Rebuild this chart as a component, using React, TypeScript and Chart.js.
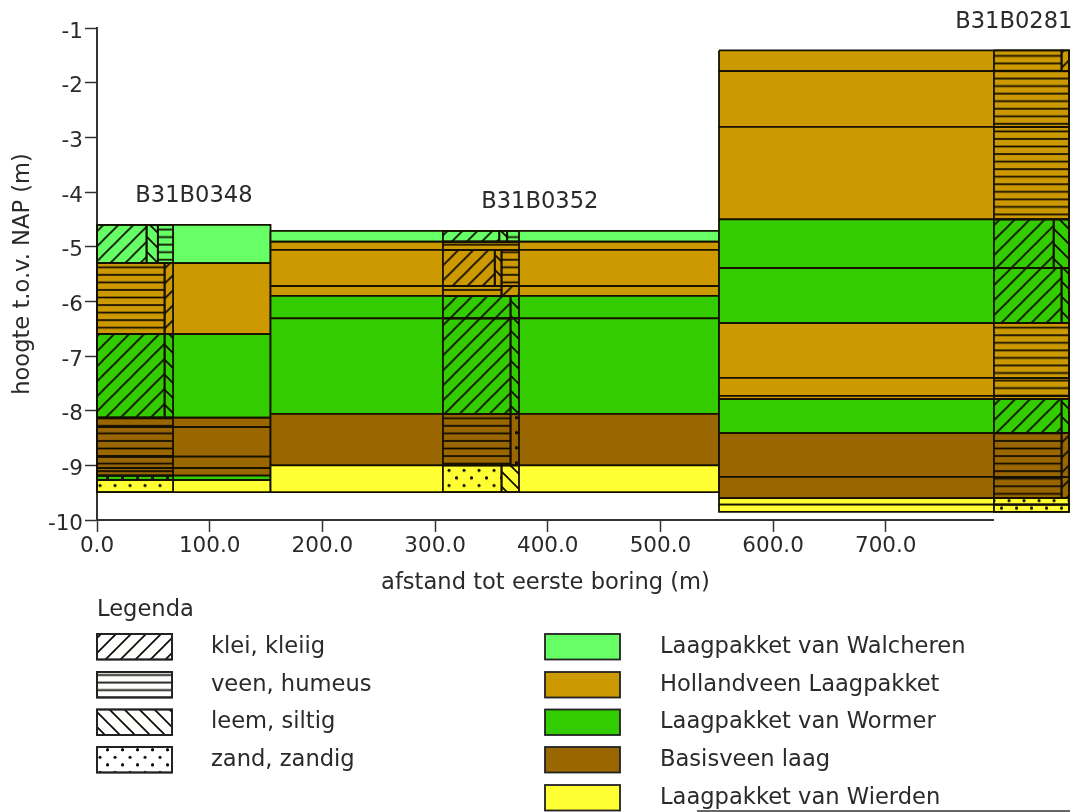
import React, { useEffect, useRef } from "react";
import { Chart, registerables } from "chart.js";

Chart.register(...registerables);

const xTickValues = [0, 100, 200, 300, 400, 500, 600, 700];
const yTickValues = [-1, -2, -3, -4, -5, -6, -7, -8, -9, -10];
const xAxisEnd = 796;
const xDataEnd = 862.6;

const unitNames = ["Laagpakket van Walcheren", "Hollandveen Laagpakket", "Laagpakket van Wormer", "Basisveen laag", "Laagpakket van Wierden"];
const unitColors = ["#66ff66", "#cc9900", "#33cc00", "#996600", "#ffff33"];
const lithoNames = ["klei, kleiig", "veen, humeus", "leem, siltig", "zand, zandig"];
const lithoKeys = ["klei", "veen", "leem", "zand"];

const W = 0, H = 1, O = 2, B = 3, Y = 4;

// formation sections between borings
const section1Range = [0, 154];
const section1Depths = [-4.6, -5.3, -6.6, -8.13, -8.3, -8.84, -9.05, -9.19, -9.27, -9.49];
const section1Units = [W, H, O, B, B, B, B, O, Y];

const section2Range = [154, 552];
const section2Depths = [-4.71, -4.91, -5.06, -5.72, -5.9, -6.31, -8.06, -9, -9.49];
const section2Units = [W, H, H, H, O, O, B, Y];

const section3Range = [552, xDataEnd];
const section3Depths = [-1.41, -1.79, -2.81, -4.5, -5.39, -6.4, -7.4, -7.73, -7.79, -8.41, -9.21, -9.6, -9.72, -9.85];
const section3Units = [H, H, H, O, O, H, H, H, O, B, B, Y, Y];

// borings: for every depth band, [lithology, end offset, ...]
const boring1Start = 0;
const boring1Rows: (string | number)[][] = [
  ["klei", 44, "leem", 54, "veen", 67.5],
  ["veen", 60, "klei", 67.5],
  ["klei", 60, "leem", 67.5],
  ["veen", 67.5],
  ["veen", 67.5],
  ["veen", 67.5],
  ["veen", 67.5],
  ["zand", 67.5],
  ["zand", 67.5],
];

const boring2Start = 307;
const boring2Rows: (string | number)[][] = [
  ["klei", 50, "leem", 57, "veen", 67.5],
  ["veen", 67.5],
  ["klei", 46, "leem", 52, "veen", 67.5],
  ["veen", 52, "klei", 67.5],
  ["klei", 60, "leem", 67.5],
  ["klei", 60, "leem", 67.5],
  ["veen", 60, "zand", 67.5],
  ["zand", 52, "leem", 67.5],
];

const boring3Start = 796;
const boring3Rows: (string | number)[][] = [
  ["veen", 60, "klei", 66.6],
  ["veen", 66.6],
  ["veen", 66.6],
  ["klei", 53, "leem", 66.6],
  ["klei", 60, "leem", 66.6],
  ["veen", 66.6],
  ["veen", 66.6],
  ["veen", 66.6],
  ["klei", 60, "leem", 66.6],
  ["veen", 60, "klei", 66.6],
  ["veen", 60, "klei", 66.6],
  ["zand", 66.6],
  ["zand", 66.6],
];

const boringLabels = ["B31B0348", "B31B0352", "B31B0281"];
const boringLabelX = [86, 393, 813.6];
const boringLabelY = [-4.07, -4.18, -0.89];

const INK = "#2a2a2a";
const FONT = "'DejaVu Sans'";

// hatch phase (px) of clay and sand per boring
const kleiPhase = [13.3, 3.4, 4.3];
const zandPhase = [10, 14, 4];

function makePattern(kind: string, phase = 0): CanvasPattern {
  const c = document.createElement("canvas");
  c.width = 15;
  c.height = 15;
  const g = c.getContext("2d")!;
  g.strokeStyle = "#0d0a00";
  g.fillStyle = "#0d0a00";
  g.lineWidth = 1.7;
  const line = (a: number, b: number, d: number, e: number) => {
    g.beginPath();
    g.moveTo(a, b);
    g.lineTo(d, e);
    g.stroke();
  };
  if (kind === "klei") {
    line(-2, 2, 2, -2);
    line(-1, 16, 16, -1);
    line(13, 17, 17, 13);
  } else if (kind === "leem") {
    line(13, -2, 17, 2);
    line(-1, -1, 16, 16);
    line(-2, 13, 2, 17);
  } else if (kind === "veen") {
    line(0, 3, 15, 3);
    line(0, 10.5, 15, 10.5);
  } else {
    for (const [a, b] of [[0, 2.2], [7.5, 9.7], [15, 2.2], [7.5, 9.7]]) {
      g.beginPath();
      g.arc(a, b, 1.5, 0, Math.PI * 2);
      g.fill();
    }
  }
  const p = g.createPattern(c, "repeat")!;
  const yScale = kind === "veen" || kind === "zand" ? 15.1 / 15 : 1;
  p.setTransform(new DOMMatrix().translate(phase, 0).scale(1, yScale));
  return p;
}

function rect(x0: number, x1: number, top: number, bottom: number) {
  return [
    { x: x0, y: top },
    { x: x1, y: top },
    { x: x1, y: bottom },
    { x: x0, y: bottom },
    { x: x0, y: top },
  ];
}

function cellDataset(data: { x: number; y: number }[], fill: string | CanvasPattern) {
  return {
    data,
    showLine: true,
    pointRadius: 0,
    borderColor: "#151000",
    borderWidth: 1.8,
    borderJoinStyle: "miter",
    backgroundColor: fill,
    fill: "shape",
    tension: 0,
    clip: false,
  };
}

export default function App() {
  const ref = useRef<HTMLCanvasElement>(null);

  useEffect(() => {
    document.body.style.margin = "0";
    document.body.style.background = "#fff";
    const legendPatterns: Record<string, CanvasPattern> = {
      klei: makePattern("klei", 0),
      veen: makePattern("veen", 0),
      leem: makePattern("leem", 0),
      zand: makePattern("zand", 10),
    };

    const painted: any[] = [];
    const addSection = (range: number[], depths: number[], units: number[]) => {
      units.forEach((u, i) => painted.push(cellDataset(rect(range[0], range[1], depths[i], depths[i + 1]), unitColors[u])));
    };
    addSection(section1Range, section1Depths, section1Units);
    addSection(section2Range, section2Depths, section2Units);
    addSection(section3Range, section3Depths, section3Units);

    const addBoring = (index: number, start: number, depths: number[], rows: (string | number)[][]) => {
      const set: Record<string, CanvasPattern> = {
        klei: makePattern("klei", kleiPhase[index]),
        veen: makePattern("veen", 0),
        leem: makePattern("leem", 0),
        zand: makePattern("zand", zandPhase[index]),
      };
      rows.forEach((row, i) => {
        let from = 0;
        for (let k = 0; k < row.length; k += 2) {
          const end = row[k + 1] as number;
          painted.push(cellDataset(rect(start + from, start + end, depths[i], depths[i + 1]), set[row[k] as string]));
          from = end;
        }
      });
    };
    addBoring(0, boring1Start, section1Depths, boring1Rows);
    addBoring(1, boring2Start, section2Depths, boring2Rows);
    addBoring(2, boring3Start, section3Depths, boring3Rows);

    // x axis line stops at the last boring, as in the reference
    painted.push({
      data: [{ x: 0, y: -10 }, { x: xAxisEnd, y: -10 }],
      showLine: true,
      pointRadius: 0,
      borderColor: "#333",
      borderWidth: 2,
      fill: false,
      clip: false,
    });

    const annotations = {
      id: "annotations",
      afterDraw(chart: any) {
        const { ctx, scales } = chart;
        ctx.save();
        ctx.fillStyle = INK;
        ctx.textBaseline = "middle";
        ctx.textAlign = "center";
        ctx.font = `22.6px ${FONT}`;
        boringLabels.forEach((t, i) => {
          ctx.fillText(t, scales.x.getPixelForValue(boringLabelX[i]), scales.y.getPixelForValue(boringLabelY[i]));
        });
        ctx.fillText("afstand tot eerste boring (m)", scales.x.getPixelForValue(xAxisEnd / 2), 583);
        ctx.textAlign = "left";
        ctx.fillText("Legenda", 97, 610);
        const box = (x: number, y: number, w: number, h: number, style: any) => {
          ctx.fillStyle = style;
          ctx.fillRect(x, y, w, h);
          ctx.strokeStyle = "#222";
          ctx.lineWidth = 1.8;
          ctx.strokeRect(x, y, w, h);
        };
        const rowY = [634, 672, 709.5, 747, 785];
        lithoNames.forEach((t, i) => {
          box(97, rowY[i], 75, 25.5, "#fff");
          box(97, rowY[i], 75, 25.5, legendPatterns[lithoKeys[i]]);
          ctx.fillStyle = INK;
          ctx.fillText(t, 211, rowY[i] + 13);
        });
        unitNames.forEach((t, i) => {
          box(545, rowY[i], 75, 25.5, unitColors[i]);
          ctx.fillStyle = INK;
          ctx.fillText(t, 660, rowY[i] + 13);
        });
        ctx.strokeStyle = "#333";
        ctx.lineWidth = 1.5;
        ctx.beginPath();
        ctx.moveTo(697, 811);
        ctx.lineTo(1070, 811);
        ctx.stroke();
        ctx.restore();
      },
    };

    const chart = new Chart(ref.current!, {
      type: "scatter",
      data: { datasets: painted.slice().reverse() },
      plugins: [annotations],
      options: {
        responsive: false,
        animation: false,
        layout: { padding: { top: 28, right: 6, left: 0, bottom: 0 } },
        plugins: { legend: { display: false }, tooltip: { enabled: false } },
        scales: {
          x: {
            type: "linear",
            min: 0,
            max: xDataEnd,
            afterBuildTicks: (s: any) => {
              s.ticks = xTickValues.map((value) => ({ value }));
            },
            afterFit: (s: any) => {
              s.height = 292;
            },
            grid: { display: true, drawOnChartArea: false, drawTicks: true, tickLength: 12, tickColor: "#333", tickWidth: 1.5 },
            border: { display: false },
            ticks: {
              color: INK,
              padding: 2,
              maxRotation: 0,
              autoSkip: false,
              font: { family: FONT, size: 21.5 },
              callback: (v: any) => Number(v).toFixed(1),
            },
          },
          y: {
            type: "linear",
            min: -10,
            max: -1,
            afterBuildTicks: (s: any) => {
              s.ticks = yTickValues.map((value) => ({ value }));
            },
            afterFit: (s: any) => {
              s.width = 97;
              // the reference's labels sit a little below their tick marks
              const compute = Object.getPrototypeOf(s)._computeLabelItems;
              s._computeLabelItems = function (area: any) {
                const items = compute.call(this, area);
                items.forEach((it: any) => {
                  it.options.translation[1] += 4;
                });
                return items;
              };
            },
            grid: { display: true, drawOnChartArea: false, drawTicks: true, tickLength: 12, tickColor: "#333", tickWidth: 1.5 },
            border: { display: true, color: "#333", width: 2 },
            ticks: {
              color: INK,
              padding: 2,
              autoSkip: false,
              font: { family: FONT, size: 21.5 },
              callback: (v: any) => String(v),
            },
            title: {
              display: true,
              text: "hoogte t.o.v. NAP (m)",
              color: INK,
              font: { family: FONT, size: 22.6 },
              padding: { top: 10, bottom: 0 },
            },
          },
        },
      },
    } as any);
    return () => chart.destroy();
  }, []);

  return <canvas ref={ref} width={1075} height={812} style={{ position: "absolute", left: 0, top: 0, display: "block", filter: "blur(0.5px)" }} />;
}
